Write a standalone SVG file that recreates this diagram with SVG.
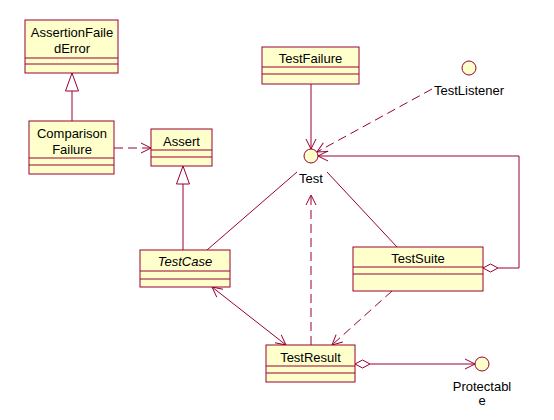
<svg xmlns="http://www.w3.org/2000/svg" width="554" height="420" viewBox="0 0 554 420">
<defs>
<style>
.box{fill:#ffffcc;stroke:#990033;stroke-width:1}
.sep{stroke:#990033;stroke-width:1}
.ln{fill:none;stroke:#990033;stroke-width:1}
.dash{fill:none;stroke:#990033;stroke-width:1;stroke-dasharray:9,5}
.t{font-family:"Liberation Sans",Arial,sans-serif;font-size:13px;fill:#000;text-anchor:middle}
.it{font-style:italic}
.circ{fill:#ffffcc;stroke:#990033;stroke-width:1}
</style>
<marker id="open" viewBox="0 0 12 12" refX="11" refY="6" markerWidth="12" markerHeight="12" markerUnits="userSpaceOnUse" orient="auto-start-reverse">
<path d="M1,1 L11,6 L1,11" fill="none" stroke="#990033" stroke-width="1"/>
</marker>
<marker id="tri" viewBox="0 0 14 20" refX="7" refY="0" markerWidth="14" markerHeight="20" markerUnits="userSpaceOnUse" orient="0">
<path d="M7,0 L13.5,18 L0.5,18 Z" fill="#ffffff" stroke="#990033" stroke-width="1"/>
</marker>
<marker id="dia" viewBox="0 0 16 10" refX="0" refY="5" markerWidth="16" markerHeight="10" markerUnits="userSpaceOnUse" orient="auto">
<path d="M0,5 L7.5,1 L15,5 L7.5,9 Z" fill="#ffffff" stroke="#990033" stroke-width="1"/>
</marker>
</defs>

<g id="connectors">
<!-- ComparisonFailure generalizes AssertionFailedError -->
<line class="ln" x1="72" y1="121" x2="72" y2="91"/>
<path d="M72,73 L78.5,91 L65.5,91 Z" fill="#ffffff" stroke="#990033"/>
<!-- ComparisonFailure -> Assert -->
<line class="dash" x1="114" y1="148" x2="151" y2="148" marker-end="url(#open)"/>
<!-- TestCase generalizes Assert -->
<line class="ln" x1="183" y1="250" x2="183" y2="184"/>
<path d="M183,166 L189.5,184 L176.5,184 Z" fill="#ffffff" stroke="#990033"/>
<!-- TestFailure -> Test -->
<line class="ln" x1="311" y1="84" x2="311" y2="149" marker-end="url(#open)"/>
<!-- TestListener -> Test -->
<line class="dash" x1="432" y1="89" x2="317" y2="152" marker-end="url(#open)"/>
<!-- TestSuite aggregation to Test -->
<polyline class="ln" points="498,268 519,268 519,156 318,156" marker-end="url(#open)"/>
<path d="M483,268 L490.5,264 L498,268 L490.5,272 Z" fill="#ffffff" stroke="#990033"/>
<!-- Test realization lines -->
<line class="ln" x1="297" y1="172" x2="207" y2="250"/>
<line class="ln" x1="327" y1="172" x2="397" y2="247"/>
<!-- TestResult -> Test dashed -->
<line class="dash" x1="311" y1="345" x2="311" y2="195" marker-end="url(#open)"/>
<!-- TestCase <-> TestResult -->
<line class="ln" x1="212" y1="287" x2="286" y2="345" marker-start="url(#open)" marker-end="url(#open)"/>
<!-- TestSuite -> TestResult dashed -->
<line class="dash" x1="392" y1="291" x2="332" y2="345" marker-end="url(#open)"/>
<!-- TestResult aggregation -> Protectable -->
<line class="ln" x1="370" y1="364" x2="475" y2="364" marker-end="url(#open)"/>
<path d="M355,364 L362.5,360 L370,364 L362.5,368 Z" fill="#ffffff" stroke="#990033"/>
</g>

<g id="AssertionFailedError">
<rect class="box" x="25" y="20" width="93" height="53"/>
<line class="sep" x1="25" y1="58" x2="118" y2="58"/>
<line class="sep" x1="25" y1="64" x2="118" y2="64"/>
<text class="t" x="72" y="37">AssertionFaile</text>
<text class="t" x="72" y="53">dError</text>
</g>

<g id="ComparisonFailure">
<rect class="box" x="29" y="121" width="85" height="53"/>
<line class="sep" x1="29" y1="158" x2="114" y2="158"/>
<line class="sep" x1="29" y1="165" x2="114" y2="165"/>
<text class="t" x="72" y="138">Comparison</text>
<text class="t" x="72" y="154">Failure</text>
</g>

<g id="Assert">
<rect class="box" x="151" y="129" width="61" height="37"/>
<line class="sep" x1="151" y1="150" x2="212" y2="150"/>
<line class="sep" x1="151" y1="157" x2="212" y2="157"/>
<text class="t" x="181.5" y="146">Assert</text>
</g>

<g id="TestFailure">
<rect class="box" x="262" y="47" width="97" height="37"/>
<line class="sep" x1="262" y1="67" x2="359" y2="67"/>
<line class="sep" x1="262" y1="74" x2="359" y2="74"/>
<text class="t" x="310.5" y="63">TestFailure</text>
</g>

<g id="TestListener">
<circle class="circ" cx="469" cy="68" r="7"/>
<text class="t" x="469" y="95">TestListener</text>
</g>

<g id="Test">
<circle class="circ" cx="311" cy="156" r="7"/>
<text class="t" x="311" y="183">Test</text>
</g>

<g id="TestCase">
<rect class="box" x="140" y="250" width="90" height="37"/>
<line class="sep" x1="140" y1="271" x2="230" y2="271"/>
<line class="sep" x1="140" y1="279" x2="230" y2="279"/>
<text class="t it" x="185" y="266">TestCase</text>
</g>

<g id="TestSuite">
<rect class="box" x="353" y="247" width="130" height="44"/>
<line class="sep" x1="353" y1="267" x2="483" y2="267"/>
<line class="sep" x1="353" y1="274" x2="483" y2="274"/>
<text class="t" x="418" y="263">TestSuite</text>
</g>

<g id="TestResult">
<rect class="box" x="266" y="345" width="89" height="37"/>
<line class="sep" x1="266" y1="366" x2="355" y2="366"/>
<line class="sep" x1="266" y1="373" x2="355" y2="373"/>
<text class="t" x="310.5" y="362">TestResult</text>
</g>

<g id="Protectable">
<circle class="circ" cx="482" cy="364" r="7"/>
<text class="t" x="482" y="391">Protectabl</text>
<text class="t" x="482" y="405">e</text>
</g>
</svg>
